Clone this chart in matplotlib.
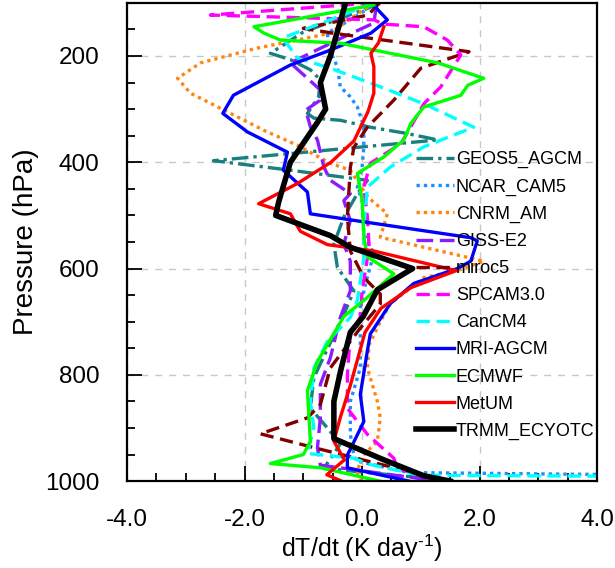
import matplotlib
matplotlib.use("Agg")
import matplotlib.pyplot as plt
from matplotlib.ticker import MultipleLocator, FormatStrFormatter

plt.rcParams["font.family"] = ["Liberation Sans", "DejaVu Sans"]
plt.rcParams["axes.unicode_minus"] = False
plt.rcParams["mathtext.fontset"] = "custom"
plt.rcParams["mathtext.rm"] = "Liberation Sans"

# heating profiles: pressure (hPa) and dT/dt (K/day)
geos5_p = [100, 110, 155, 195, 207, 226, 245, 277, 308, 317, 321, 334, 346, 358, 397, 415, 434, 459, 503, 554, 598, 642, 686, 805, 863, 900, 930, 976, 1000]
geos5_x = [0.3, 0.1, -1.0, -1.56, -1.22, -0.88, -0.71, -0.74, -0.93, -0.82, -0.37, 0.14, 0.77, 1.29, -2.53, -1.22, 0.09, -0.08, -0.31, -0.48, -0.42, -0.14, -0.31, -0.82, -0.88, -0.59, -0.37, -0.65, 1.6]

ncar_p = [100, 128, 157, 183, 221, 258, 277, 296, 333, 371, 409, 447, 472, 535, 572, 628, 674, 787, 850, 912, 951, 962, 984, 988]
ncar_x = [0.25, -0.14, -0.59, -0.57, -0.42, -0.37, -0.2, -0.08, 0.03, 0.03, 0.0, -0.08, 0.0, 0.03, 0.2, 0.06, -0.03, -0.03, -0.2, -0.2, -0.14, -0.1, 0.8, 4.5]

cnrm_p = [100, 130, 157, 170, 185, 213, 242, 270, 308, 340, 368, 402, 415, 466, 497, 541, 586, 604, 617, 666, 700, 743, 787, 850, 881, 925, 957, 988, 1000]
cnrm_x = [0.2, -0.2, -0.54, -1.1, -1.78, -2.75, -3.14, -2.92, -2.24, -1.67, -1.1, -0.54, -0.2, 0.1, 0.43, 0.31, 2.07, 1.62, 1.05, 0.48, 0.31, 0.12, 0.09, 0.26, 0.31, 0.26, -0.03, -0.08, 0.0]

giss_p = [100, 138, 164, 213, 264, 283, 302, 333, 358, 409, 434, 459, 472, 510, 554, 586, 642, 692, 768, 818, 881, 937, 970, 1000]
giss_x = [0.25, 0.2, -0.31, -1.22, -0.71, -0.71, -0.96, -0.88, -0.76, -0.65, -0.54, -0.2, -0.31, -0.2, -0.31, -0.2, -0.2, -0.37, -0.54, -0.71, -0.71, -0.76, -0.71, 1.3]

miroc_p = [100, 123, 148, 157, 192, 204, 223, 283, 334, 372, 410, 503, 567, 617, 648, 667, 712, 787, 856, 881, 911, 937, 970, 988, 1000]
miroc_x = [0.3, 0.1, -1.0, -0.5, 1.82, 1.5, 1.0, 0.54, 0.09, -0.14, -0.2, -0.25, -0.2, 0.03, 0.31, 0.31, -0.03, -0.54, -0.71, -0.93, -1.73, -0.82, 0.37, 1.05, 1.4]

spcam_p = [100, 123, 132, 140, 145, 170, 198, 258, 290, 333, 365, 402, 447, 503, 560, 642, 692, 723, 800, 863, 912, 957, 976, 1000]
spcam_x = [0.2, -2.58, 0.2, 0.37, 1.05, 1.45, 1.68, 1.34, 1.05, 0.83, 0.66, 0.14, 0.03, 0.09, 0.12, 0.0, -0.03, -0.2, -0.25, -0.25, 0.09, 0.54, 0.6, 1.3]

can_p = [100, 130, 166, 204, 223, 258, 290, 334, 371, 409, 447, 522, 580, 660, 692, 737, 787, 850, 900, 948, 957, 968, 989, 991]
can_x = [0.2, -0.5, -1.35, -1.1, -0.54, 0.31, 1.05, 1.9, 1.05, 0.48, 0.09, 0.03, 0.03, -0.08, -0.2, -0.59, -0.82, -0.88, -0.82, -0.93, -0.14, 0.1, 1.0, 4.5]

mri_p = [105, 132, 157, 189, 217, 274, 308, 343, 381, 415, 456, 497, 510, 542, 548, 586, 600, 628, 666, 723, 755, 837, 888, 951, 975, 1000]
mri_x = [0.2, 0.43, 0.15, -0.54, -1.22, -2.19, -2.37, -1.95, -1.27, -1.34, -0.93, -0.88, -0.1, 1.85, 1.96, 1.85, 1.62, 0.88, 0.48, 0.14, 0.09, -0.03, 0.03, -0.25, -0.25, 0.8]

ecmwf_p = [104, 145, 157, 170, 176, 213, 242, 255, 274, 296, 327, 358, 390, 421, 470, 540, 578, 610, 660, 690, 775, 830, 925, 950, 967, 975, 1000]
ecmwf_x = [0.2, -1.84, -1.67, -1.39, -0.37, 1.29, 2.07, 1.8, 1.68, 1.05, 0.83, 0.71, 0.37, -0.08, 0.0, 0.03, 0.09, 0.54, 0.03, -0.31, -0.76, -0.93, -0.88, -1.0, -1.56, -0.7, 0.3]

metum_p = [145, 175, 195, 220, 270, 305, 360, 400, 440, 478, 497, 530, 555, 567, 585, 604, 636, 675, 720, 820, 880, 925, 960, 988, 1000]
metum_x = [0.37, 0.28, 0.15, 0.2, 0.2, 0.1, -0.14, -0.53, -1.1, -1.76, -1.22, -1.05, -0.59, 0.2, 0.88, 1.6, 0.83, 0.32, 0.05, -0.2, -0.37, -0.48, -0.3, -0.6, -0.35]

trmm_p = [100, 200, 250, 300, 325, 400, 475, 500, 538, 560, 600, 640, 690, 720, 790, 850, 920, 960, 990, 1000]
trmm_x = [-0.28, -0.54, -0.71, -0.62, -0.76, -1.22, -1.42, -1.47, -0.54, -0.2, 0.86, 0.26, 0.02, -0.2, -0.36, -0.48, -0.48, 0.37, 1.05, 1.5]

series = [
    ("GEOS5_AGCM", geos5_p, geos5_x, "#1a7f7f", (0, (5, 1.5, 1, 1.5)), 2.4),
    ("NCAR_CAM5", ncar_p, ncar_x, "#1e8fff", (0, (1, 1.2)), 2.4),
    ("CNRM_AM", cnrm_p, cnrm_x, "#ff8515", (0, (1, 1.2)), 2.4),
    ("GISS-E2", giss_p, giss_x, "#8a1cff", (0, (5, 2)), 2.4),
    ("miroc5", miroc_p, miroc_x, "#800000", (0, (4, 2)), 2.4),
    ("SPCAM3.0", spcam_p, spcam_x, "#ff00ff", (0, (4, 2)), 2.4),
    ("CanCM4", can_p, can_x, "#00ffff", (0, (4, 2)), 2.4),
    ("MRI-AGCM", mri_p, mri_x, "#0000ff", "-", 2.4),
    ("ECMWF", ecmwf_p, ecmwf_x, "#00ff00", "-", 2.4),
    ("MetUM", metum_p, metum_x, "#ff0000", "-", 2.4),
    ("TRMM_ECYOTC", trmm_p, trmm_x, "#000000", "-", 4.0),
]

fig = plt.figure(figsize=(6.15, 5.68), dpi=100)
ax = fig.add_axes([0.2065, 0.153, 0.7645, 0.842])

for name, p, x, c, ls, lw in series:
    ax.plot(x, p, color=c, linestyle=ls, linewidth=lw, label=name)

ax.set_xlim(-4, 4)
ax.set_ylim(1000, 100)
ax.set_xticks([-4, -2, 0, 2, 4])
ax.set_yticks([200, 400, 600, 800, 1000])
ax.xaxis.set_minor_locator(MultipleLocator(0.5))
ax.yaxis.set_minor_locator(MultipleLocator(50))
ax.xaxis.set_major_formatter(FormatStrFormatter("%.1f"))
ax.tick_params(which="both", direction="in", width=1.3, labelsize=17.5, pad=20)
ax.tick_params(which="major", length=11)
ax.tick_params(which="minor", length=6)
ax.tick_params(axis="y", which="both", right=False)
ax.grid(True, which="major", linestyle=(0, (5, 5)), color="#c8c8c8", linewidth=1.0)
for s in ax.spines.values():
    s.set_linewidth(1.6)

ax.set_xlabel("dT/dt (K day$^{\\mathrm{\u2010}1}$)", fontsize=18, labelpad=1)
ax.set_ylabel("Pressure (hPa)", fontsize=20, labelpad=4)

ax.legend(loc="upper left", bbox_to_anchor=(0.615, 0.69), frameon=False,
          fontsize=13, handlelength=2.1, handletextpad=0.1, labelspacing=0.56,
          borderpad=0, borderaxespad=0)

fig.savefig("out.png", dpi=100)
